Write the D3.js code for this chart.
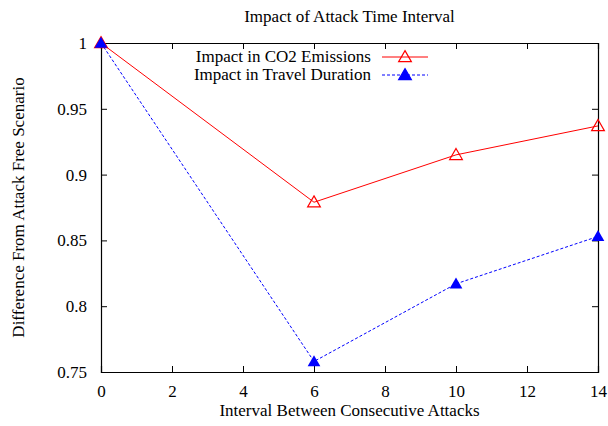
<!DOCTYPE html>
<html>
<head>
<meta charset="utf-8">
<script src="https://cdn.jsdelivr.net/npm/d3@7"></script>
<style>
  body { margin: 0; background: #fff; }
  svg text { font-family: "Liberation Serif", "Times New Roman", serif; fill: #000; }
</style>
</head>
<body>
<div id="chart"></div>
<script>
// data
const intervals = [0, 6, 10, 14];
const co2 = [1.0, 0.879, 0.915, 0.937];
const travel = [1.0, 0.758, 0.817, 0.853];
const xTicks = [0, 2, 4, 6, 8, 10, 12, 14];
const yTicks = [0.75, 0.8, 0.85, 0.9, 0.95, 1];
const seriesNames = ['Impact in CO2 Emissions', 'Impact in Travel Duration'];

const width = 608;
const height = 426;
const margin = {top: 43, right: 10, bottom: 54, left: 101};
const serif = '"Liberation Serif", "Times New Roman", serif';

const svg = d3.select('#chart')
    .append('svg')
        .attr('width', width)
        .attr('height', height)
        .attr('font-family', serif);

const x = d3.scaleLinear()
    .domain([0, 14])
    .range([margin.left, width - margin.right]);
const y = d3.scaleLinear()
    .domain([0.75, 1])
    .range([height - margin.bottom, margin.top]);

const tick = 6;
const fmt = d => d3.format('~g')(d);

// axes with inward ticks, mirrored on top / right
const axes = svg.append('g');
axes.append('g')
    .attr('transform', `translate(0,${y(0.75)})`)
    .call(d3.axisBottom(x).tickValues(xTicks).tickSize(-tick).tickPadding(tick + 7).tickFormat(fmt));
axes.append('g')
    .attr('transform', `translate(0,${y(1)})`)
    .call(d3.axisTop(x).tickValues(xTicks.slice(1, -1)).tickSize(-tick).tickFormat(''));
axes.append('g')
    .attr('transform', `translate(${x(0)},0)`)
    .call(d3.axisLeft(y).tickValues(yTicks).tickSize(-tick).tickPadding(tick + 8).tickFormat(fmt));
axes.append('g')
    .attr('transform', `translate(${x(14)},0)`)
    .call(d3.axisRight(y).tickValues(yTicks.slice(1, -1)).tickSize(-tick).tickFormat(''));
axes.selectAll('g').attr('font-family', serif);
axes.selectAll('.domain').attr('stroke', '#000').attr('stroke-width', 1.2);
axes.selectAll('.tick line').attr('stroke', '#000');
axes.selectAll('.tick text')
    .attr('font-family', serif)
    .style('font-size', '17px');

// titles
svg.append('text')
    .attr('x', (x(0) + x(14)) / 2)
    .attr('y', 22)
    .attr('text-anchor', 'middle')
    .style('font-size', '17px')
    .text('Impact of Attack Time Interval');
svg.append('text')
    .attr('x', (x(0) + x(14)) / 2)
    .attr('y', 416)
    .attr('text-anchor', 'middle')
    .style('font-size', '17px')
    .text('Interval Between Consecutive Attacks');
svg.append('text')
    .attr('transform', `translate(24,${(y(0.75) + y(1)) / 2}) rotate(-90)`)
    .attr('text-anchor', 'middle')
    .style('font-size', '17px')
    .text('Difference From Attack Free Scenario');

const line = d3.line()
    .x((d, i) => x(intervals[i]))
    .y(d => y(d));

const tri = d3.symbol().type(d3.symbolTriangle).size(70);

// CO2 series
svg.append('path')
    .datum(co2)
    .attr('fill', 'none')
    .attr('stroke', '#ff0000')
    .attr('stroke-width', 1)
    .attr('d', line);
// travel series
svg.append('path')
    .datum(travel)
    .attr('fill', 'none')
    .attr('stroke', '#0000ff')
    .attr('stroke-width', 1)
    .attr('stroke-dasharray', '3,2')
    .attr('d', line);

svg.append('g')
    .selectAll('path')
    .data(co2)
    .join('path')
        .attr('transform', (d, i) => `translate(${x(intervals[i])},${y(d) + 1})`)
        .attr('d', tri)
        .attr('fill', 'none')
        .attr('stroke', '#ff0000')
        .attr('stroke-width', 1.2);
svg.append('g')
    .selectAll('path')
    .data(travel)
    .join('path')
        .attr('transform', (d, i) => `translate(${x(intervals[i])},${y(d) + 1})`)
        .attr('d', tri)
        .attr('fill', '#0000ff');

// legend
const legend = svg.append('g');
const styles = [
    {stroke: '#ff0000', dash: null, fill: 'none'},
    {stroke: '#0000ff', dash: '3,2', fill: '#0000ff'}
];
seriesNames.forEach((name, i) => {
    const ly = 57 + i * 18;
    legend.append('text')
        .attr('x', 371)
        .attr('y', ly + 5)
        .attr('text-anchor', 'end')
        .style('font-size', '17px')
        .text(name);
    legend.append('line')
        .attr('x1', 382).attr('x2', 428)
        .attr('y1', ly).attr('y2', ly)
        .attr('stroke', styles[i].stroke)
        .attr('stroke-dasharray', styles[i].dash);
    legend.append('path')
        .attr('transform', `translate(405,${ly + 1})`)
        .attr('d', tri)
        .attr('fill', styles[i].fill)
        .attr('stroke', styles[i].stroke)
        .attr('stroke-width', 1.2);
});
</script>
</body>
</html>
